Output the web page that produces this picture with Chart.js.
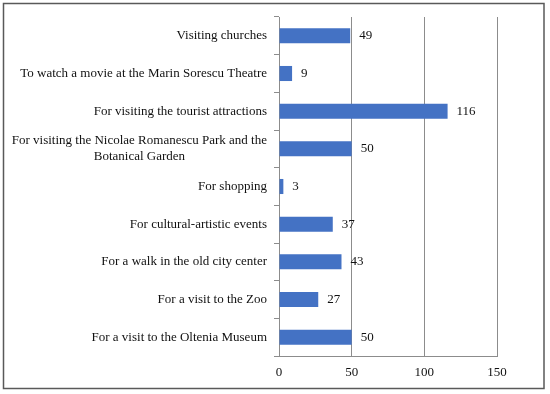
<!DOCTYPE html>
<html lang="en">
<head>
  <meta charset="UTF-8" />
  <title>Reasons for visiting</title>
  <style>
    html, body {
      margin: 0;
      padding: 0;
      background: #ffffff;
    }
    .chart-box {
      position: relative;
      width: 550px;
      height: 394px;
    }
  </style>
</head>
<body>
  <div class="chart-box">
    <canvas id="reasonsChart" width="550" height="394"></canvas>
  </div>
  <script src="https://cdn.jsdelivr.net/npm/chart.js"></script>
  <script>
    const categories = [
      "Visiting churches",
      "To watch a movie at the Marin Sorescu Theatre",
      "For visiting the tourist attractions",
      ["For visiting the Nicolae Romanescu Park and the", "Botanical Garden"],
      "For shopping",
      "For cultural-artistic events",
      "For a walk in the old city center",
      "For a visit to the Zoo",
      "For a visit to the Oltenia Museum"
    ];
    const answers = [49, 9, 116, 50, 3, 37, 43, 27, 50];
    const xTicks = [0, 50, 100, 150];

    const labelFont = "13px 'Liberation Serif', serif";
    const gridColor = "#8c8c8c";

    // outer frame round the whole picture
    const framePlugin = {
      id: "frame",
      beforeDraw(chart) {
        const ctx = chart.ctx;
        ctx.save();
        ctx.fillStyle = "#ffffff";
        ctx.fillRect(0, 0, chart.width, chart.height);
        ctx.strokeStyle = "#595959";
        ctx.lineWidth = 1.5;
        ctx.strokeRect(3.5, 3.5, 540.5, 385);
        ctx.restore();
      }
    };

    // category names, right aligned; wrapped lines centred on each other
    const categoryLabels = {
      id: "categoryLabels",
      afterDraw(chart) {
        const ctx = chart.ctx;
        const yScale = chart.scales.y;
        const right = yScale.right - 12;
        const lineH = 16;
        ctx.save();
        ctx.font = labelFont;
        ctx.fillStyle = "#111111";
        ctx.textBaseline = "middle";
        categories.forEach((cat, i) => {
          const lines = Array.isArray(cat) ? cat : [cat];
          const y = yScale.getPixelForValue(i);
          const widths = lines.map(l => ctx.measureText(l).width);
          const maxW = Math.max(...widths);
          const centre = right - maxW / 2;
          const top = y - (lines.length - 1) * lineH / 2;
          lines.forEach((l, j) => {
            ctx.textAlign = lines.length > 1 ? "center" : "right";
            ctx.fillText(l, lines.length > 1 ? centre : right, top + j * lineH);
          });
        });
        ctx.restore();
      }
    };

    // value next to each bar
    const valueLabels = {
      id: "valueLabels",
      afterDatasetsDraw(chart) {
        const ctx = chart.ctx;
        const meta = chart.getDatasetMeta(0);
        ctx.save();
        ctx.font = labelFont;
        ctx.fillStyle = "#111111";
        ctx.textAlign = "left";
        ctx.textBaseline = "middle";
        meta.data.forEach((bar, i) => {
          ctx.fillText(String(answers[i]), bar.x + 9, bar.y);
        });
        ctx.restore();
      }
    };

    new Chart(document.getElementById("reasonsChart"), {
      type: "bar",
      data: {
        labels: categories,
        datasets: [{
          data: answers,
          backgroundColor: "#4472c4",
          borderWidth: 0,
          barPercentage: 0.8,
          categoryPercentage: 0.5
        }]
      },
      options: {
        indexAxis: "y",
        responsive: false,
        animation: false,
        layout: {
          padding: { left: 0, right: 53, top: 17, bottom: 0 }
        },
        plugins: {
          legend: { display: false },
          tooltip: { enabled: false }
        },
        scales: {
          x: {
            min: 0,
            max: 150,
            afterBuildTicks(scale) {
              scale.ticks = xTicks.map(v => ({ value: v }));
            },
            grid: {
              color: gridColor,
              drawTicks: false
            },
            border: { display: true, color: gridColor },
            ticks: {
              padding: 9,
              color: "#111111",
              font: { family: "'Liberation Serif', serif", size: 13 }
            },
            afterFit(scale) {
              scale.height = 38;
            }
          },
          y: {
            offset: true,
            grid: {
              offset: true,
              drawOnChartArea: false,
              drawTicks: true,
              tickLength: 5,
              color: gridColor
            },
            border: { display: true, color: gridColor },
            ticks: { display: false },
            afterFit(scale) {
              scale.width = 279;
            }
          }
        }
      },
      plugins: [framePlugin, categoryLabels, valueLabels]
    });
  </script>
</body>
</html>
